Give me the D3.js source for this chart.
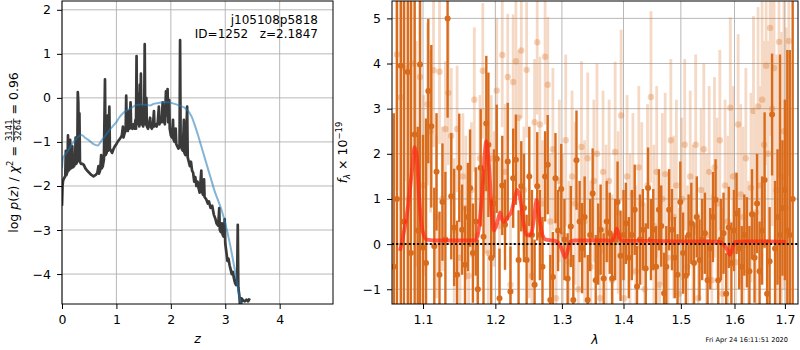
<!DOCTYPE html>
<html>
<head>
<meta charset="utf-8">
<script src="https://cdn.jsdelivr.net/npm/d3@7"></script>
<style>
body { margin: 0; background: #fff; }
svg { font-family: "DejaVu Sans", sans-serif; }
</style>
</head>
<body>
<svg width="800" height="350"></svg>
<script>
// ---- left panel: p(z) ----
const zTicks = [0, 1, 2, 3, 4];
const logpTicks = [-4, -3, -2, -1, 0, 1, 2];
// [z, log p(z)] black curve
const pzCurve = [
  [0.00,-2.45],[0.01,-2.0],[0.02,-1.88],[0.04,-1.82],[0.06,-1.78],[0.07,-1.2],[0.08,-1.75],[0.10,-1.68],
  [0.11,-0.85],[0.12,-1.65],[0.14,-1.62],[0.15,-0.95],[0.16,-1.6],[0.18,-1.58],[0.19,-1.1],[0.20,-1.58],
  [0.22,-1.55],[0.24,-1.5],[0.25,-0.9],[0.26,-1.5],[0.28,-1.45],[0.29,0.13],[0.30,-0.1],[0.31,-1.4],
  [0.32,-0.35],[0.33,-1.45],[0.35,-1.5],[0.38,-1.5],[0.40,-1.52],[0.43,-1.6],[0.46,-1.65],[0.50,-1.7],
  [0.54,-1.75],[0.58,-1.78],[0.62,-1.75],[0.65,-1.7],[0.67,-1.55],[0.68,-1.72],[0.70,-1.65],[0.72,-1.3],
  [0.73,-1.6],[0.75,-1.55],[0.77,-1.4],[0.79,0.42],[0.80,-1.3],[0.82,-1.25],[0.84,-0.4],[0.85,-1.2],
  [0.87,-0.2],[0.88,-1.15],[0.90,-1.2],[0.92,-1.25],[0.95,-1.15],[0.97,-1.1],[1.00,-1.05],[1.02,-1.0],
  [1.05,-0.95],[1.08,-0.9],[1.10,-0.85],[1.12,-0.65],[1.13,-0.9],[1.15,-0.8],[1.17,-0.75],[1.18,0.05],
  [1.19,-0.7],[1.21,-0.75],[1.23,-0.3],[1.24,-0.7],[1.26,-0.1],[1.27,-0.65],[1.29,-0.7],[1.31,-0.6],
  [1.33,-0.7],[1.35,-0.5],[1.36,-0.7],[1.37,0.95],[1.38,-0.6],[1.40,-0.55],[1.41,0.1],[1.42,-0.65],
  [1.43,0.3],[1.44,-0.5],[1.45,0.55],[1.46,-0.6],[1.48,-0.2],[1.49,-0.65],[1.51,-0.4],[1.52,1.22],
  [1.53,-0.6],[1.55,0.0],[1.56,-0.65],[1.58,-0.7],[1.60,-0.6],[1.62,-0.45],[1.63,-0.65],[1.65,-0.7],
  [1.67,-0.65],[1.69,-0.3],[1.70,-0.65],[1.72,-0.6],[1.74,-0.65],[1.76,-0.55],[1.78,-0.2],[1.79,-0.6],
  [1.81,-0.5],[1.83,-0.55],[1.85,-0.1],[1.86,-0.55],[1.88,-0.3],[1.89,-0.6],[1.91,0.15],[1.92,-0.4],
  [1.94,0.2],[1.95,-0.55],[1.97,-0.05],[1.98,-0.7],[2.00,-0.85],[2.02,-0.9],[2.04,-0.5],[2.05,-0.95],
  [2.07,-1.0],[2.09,-0.7],[2.10,-1.05],[2.12,-1.1],[2.14,-1.15],[2.16,-1.1],[2.17,1.31],[2.18,-1.0],
  [2.20,-1.15],[2.22,-1.2],[2.24,-0.5],[2.25,-1.25],[2.27,-1.3],[2.30,-0.2],[2.31,-1.35],[2.33,-1.45],
  [2.35,-1.55],[2.37,-1.45],[2.39,-1.65],[2.41,-1.7],[2.43,-1.9],[2.45,-1.8],[2.47,-2.0],[2.49,-1.9],
  [2.51,-2.05],[2.53,-2.15],[2.56,-1.65],[2.57,-2.1],[2.59,-2.2],[2.61,-1.85],[2.62,-2.25],[2.65,-2.3],
  [2.68,-2.4],[2.70,-2.35],[2.73,-2.5],[2.76,-2.45],[2.79,-2.65],[2.82,-2.75],[2.84,-2.85],[2.87,-2.9],
  [2.89,-2.5],[2.90,-3.0],[2.92,-3.05],[2.94,-2.85],[2.95,-3.1],[2.97,-3.15],[2.99,-2.75],[3.00,-3.3],
  [3.02,-3.5],[3.04,-3.7],[3.06,-3.65],[3.08,-3.8],[3.10,-3.9],[3.12,-4.0],[3.14,-3.95],[3.16,-4.1],
  [3.18,-4.2],[3.20,-4.25],[3.22,-4.0],[3.23,-2.88],[3.24,-4.3],[3.26,-4.5],[3.28,-4.9],[3.30,-4.55],
  [3.33,-4.6],[3.36,-4.62],[3.39,-4.58],[3.42,-4.62],[3.45,-4.55]
];
// [z, log p(z)] smooth blue curve
const pzSmooth = [
  [0.00,-1.6],[0.02,-1.35],[0.05,-1.3],[0.10,-1.22],[0.15,-1.12],[0.20,-1.02],[0.25,-0.95],[0.30,-0.88],
  [0.36,-0.84],[0.42,-0.9],[0.50,-0.97],[0.58,-1.05],[0.66,-1.08],[0.72,-0.98],[0.80,-0.85],[0.88,-0.72],
  [0.95,-0.62],[1.00,-0.55],[1.05,-0.45],[1.12,-0.35],[1.20,-0.28],[1.28,-0.22],[1.35,-0.17],[1.45,-0.15],
  [1.55,-0.16],[1.62,-0.17],[1.68,-0.14],[1.75,-0.12],[1.85,-0.1],[1.95,-0.1],[2.05,-0.13],[2.15,-0.17],
  [2.25,-0.22],[2.32,-0.3],[2.38,-0.42],[2.44,-0.62],[2.50,-0.85],[2.56,-1.1],[2.62,-1.35],[2.68,-1.6],
  [2.74,-1.85],[2.80,-2.1],[2.86,-2.3],[2.92,-2.5],[2.98,-2.75],[3.04,-3.05],[3.10,-3.4],[3.16,-3.8],
  [3.21,-4.15],[3.26,-4.5],[3.30,-4.75]
];

// ---- right panel: spectrum ----
const lamTicks = [1.1, 1.2, 1.3, 1.4, 1.5, 1.6, 1.7];
const fluxTicks = [-1, 0, 1, 2, 3, 4, 5];
// [lambda, flux, error] strong spectrum
const specDark = [
  [1.062,-0.5,3.4],[1.066,1.0,7],[1.071,3.95,6],[1.075,0.5,7],[1.080,3.81,6],[1.084,-0.2,6],[1.089,2.43,5],
  [1.093,0.3,2.3],[1.096,3.98,6],[1.100,-0.08,2.5],[1.104,-0.42,3.2],[1.107,3.39,1.6],[1.111,2.61,1.8],
  [1.115,-0.05,1.3],[1.118,1.6,1.3],[1.122,-0.68,1.4],[1.126,0.93,1.3],[1.130,0.1,1.5],[1.133,5.0,2.2],
  [1.138,1.06,1.4],[1.142,0.37,1.3],[1.146,-0.68,1.2],[1.149,1.69,1.2],[1.153,0.32,1.0],[1.157,-0.46,1.3],
  [1.161,0.6,1.2],[1.164,1.24,1.3],[1.168,-0.2,1.1],[1.172,0.5,1.2],[1.175,-1.0,1.1],[1.179,1.69,1.3],
  [1.183,0.16,1.5],[1.187,2.67,1.5],[1.190,2.2,1.6],[1.194,-0.31,1.3],[1.198,0.9,1.2],[1.202,1.89,1.2],
  [1.206,-1.2,1.1],[1.210,1.3,1.1],[1.214,0.43,1.0],[1.218,1.83,1.3],[1.222,-1.05,1.0],[1.226,1.46,1.1],
  [1.230,1.87,1.0],[1.234,-0.35,1.1],[1.238,1.28,1.0],[1.242,0.8,1.2],[1.246,-0.35,1.0],[1.250,1.5,1.1],
  [1.254,0.2,1.0],[1.258,-0.9,1.0],[1.262,1.28,1.2],[1.266,0.2,1.0],[1.270,-0.5,1.1],[1.274,1.5,1.0],
  [1.278,1.76,1.1],[1.282,-1.24,1.0],[1.286,-0.73,1.0],[1.290,1.46,1.0],[1.294,0.3,0.9],[1.299,1.22,1.0],
  [1.304,0.1,0.9],[1.309,-0.76,1.0],[1.314,0.39,0.9],[1.318,-1.24,1.0],[1.323,1.86,1.1],[1.328,0.5,0.9],
  [1.332,-0.09,1.0],[1.336,0.6,0.9],[1.341,-1.24,1.0],[1.345,0.2,0.8],[1.349,1.12,1.0],[1.354,-0.8,1.0],
  [1.358,0.0,0.9],[1.362,0.32,1.0],[1.367,-0.76,1.0],[1.372,0.5,0.9],[1.377,0.24,0.9],[1.381,-0.76,1.0],
  [1.386,0.1,0.9],[1.390,0.93,0.9],[1.395,-0.26,1.0],[1.400,0.2,1.0],[1.404,0.46,0.9],[1.409,-0.3,0.9],
  [1.414,0.2,1.0],[1.419,0.76,1.0],[1.423,-0.94,0.9],[1.428,0.1,1.0],[1.433,0.32,0.9],[1.438,-0.54,1.0],
  [1.442,1.24,0.9],[1.447,0.1,0.9],[1.451,0.32,0.9],[1.456,-0.5,0.9],[1.461,0.76,0.9],[1.465,0.4,0.9],
  [1.470,-1.09,0.9],[1.474,-0.5,0.9],[1.479,0.76,0.9],[1.484,0.32,0.9],[1.489,-0.3,0.9],[1.494,-0.68,0.9],
  [1.499,0.93,0.9],[1.504,-0.2,0.9],[1.509,-0.7,0.9],[1.514,0.2,0.9],[1.519,0.46,0.9],[1.524,-0.42,0.9],
  [1.529,0.6,0.9],[1.534,-0.35,0.9],[1.539,0.1,0.9],[1.544,0.24,0.9],[1.549,-0.8,0.9],[1.554,-0.1,0.9],
  [1.559,0.6,1.0],[1.564,0.98,0.9],[1.569,-0.8,0.9],[1.574,0.1,0.9],[1.579,0.24,0.9],[1.584,-1.1,0.9],
  [1.589,0.37,0.9],[1.594,-0.42,0.9],[1.599,0.3,0.9],[1.604,0.68,0.9],[1.609,-0.1,0.9],[1.614,-0.5,0.9],
  [1.619,0.2,0.9],[1.624,0.04,1.0],[1.629,-0.6,1.0],[1.634,0.66,1.0],[1.639,-0.3,1.0],[1.644,0.9,1.1],
  [1.649,-0.6,1.1],[1.654,0.3,1.2],[1.659,1.42,1.5],[1.664,-1.1,1.2],[1.669,-0.38,1.2],[1.674,2.87,1.35],
  [1.680,-0.1,1.5],[1.685,0.6,1.5],[1.690,0.2,4.0],[1.695,0.8,1.5],[1.700,1.2,2.0],[1.705,0.3,4.0],
  [1.710,0.2,4.1],[1.716,1.0,8]
];
// [lambda, flux, error] faint spectrum
const specFaint = [
  [1.066,4.2,3.0],[1.071,3.25,2.5],[1.076,3.9,2.5],[1.081,1.0,3.0],[1.086,4.0,2.0],[1.091,2.0,2.5],
  [1.096,3.7,2.0],[1.101,1.3,2.0],[1.106,3.1,1.8],[1.110,2.5,1.8],[1.114,3.85,1.7],[1.118,0.6,1.8],
  [1.122,3.82,1.6],[1.126,1.0,1.6],[1.130,2.55,1.5],[1.134,3.35,1.6],[1.138,2.4,1.5],[1.142,0.3,1.6],
  [1.146,2.55,1.4],[1.150,-0.3,1.5],[1.154,1.5,1.4],[1.158,0.8,1.6],[1.162,-0.7,1.5],[1.166,1.2,1.5],
  [1.170,3.2,1.6],[1.174,0.2,1.5],[1.178,1.9,1.4],[1.182,3.84,1.5],[1.186,1.4,1.6],[1.190,-0.2,1.5],
  [1.194,1.9,1.4],[1.198,1.0,1.5],[1.202,3.4,1.6],[1.206,0.4,1.5],[1.210,4.19,1.6],[1.214,1.6,1.5],
  [1.218,3.7,1.4],[1.222,-0.9,1.5],[1.226,3.59,1.5],[1.230,4.05,1.6],[1.234,2.8,1.5],[1.238,4.29,1.5],
  [1.242,1.2,1.4],[1.246,3.86,1.5],[1.250,0.2,1.4],[1.254,-0.7,1.5],[1.258,2.7,1.4],[1.262,4.47,1.6],
  [1.266,2.65,1.5],[1.270,0.9,1.4],[1.274,4.15,1.5],[1.278,3.53,1.5],[1.282,0.5,1.5],[1.286,2.1,1.8],
  [1.291,-1.2,1.9],[1.296,1.4,1.8],[1.301,0.2,1.8],[1.306,2.3,1.9],[1.311,-0.4,1.8],[1.316,1.5,1.9],
  [1.321,0.9,1.8],[1.326,-1.0,1.9],[1.331,2.15,1.9],[1.336,0.5,1.8],[1.341,1.9,1.9],[1.346,-0.5,1.9],
  [1.351,1.4,1.8],[1.356,2.0,2.0],[1.361,-1.2,1.9],[1.366,1.6,1.8],[1.371,0.3,1.9],[1.376,1.4,1.8],
  [1.381,-0.8,1.9],[1.386,2.04,2.0],[1.391,0.7,1.8],[1.396,2.85,1.9],[1.401,-1.2,1.9],[1.406,1.5,1.8],
  [1.411,0.1,1.9],[1.416,1.1,1.8],[1.421,-0.6,1.9],[1.426,1.7,1.8],[1.431,0.9,1.8],[1.436,-1.0,1.9],
  [1.441,1.3,1.8],[1.447,3.26,1.9],[1.452,0.4,1.8],[1.457,1.6,1.9],[1.462,-0.9,1.8],[1.467,1.0,1.9],
  [1.472,1.55,1.8],[1.477,-0.3,1.9],[1.482,2.3,1.8],[1.487,0.6,1.8],[1.492,1.3,1.9],[1.497,-1.1,1.9],
  [1.502,1.0,1.8],[1.507,2.2,1.9],[1.512,-0.5,1.8],[1.517,1.5,1.9],[1.522,0.4,1.8],[1.527,2.2,2.0],
  [1.532,-1.2,1.9],[1.537,1.2,1.8],[1.542,2.1,1.9],[1.547,0.2,1.8],[1.552,1.6,1.9],[1.557,-0.8,1.9],
  [1.562,1.7,2.0],[1.567,0.9,1.9],[1.572,2.3,2.0],[1.577,-1.1,1.9],[1.582,1.3,1.9],[1.587,0.5,1.9],
  [1.592,3.02,2.0],[1.597,1.5,2.0],[1.602,-0.4,2.0],[1.607,2.65,2.0],[1.612,1.1,2.0],[1.617,0.6,2.0],
  [1.622,1.9,2.0],[1.627,-0.6,2.0],[1.632,1.25,2.1],[1.637,2.95,2.1],[1.642,0.7,2.2],[1.646,3.05,2.2],
  [1.650,1.3,2.2],[1.654,3.2,2.2],[1.658,2.2,2.3],[1.662,3.95,2.2],[1.666,2.0,2.5],[1.670,4.79,2.4],
  [1.674,3.0,2.6],[1.678,3.9,2.8],[1.683,1.2,3.0],[1.688,4.48,3.0],[1.693,1.5,3.2],[1.698,2.5,3.5],
  [1.703,0.8,4.0],[1.708,4.5,3.0]
];
// [lambda, model flux]
const specModel = [
  [1.070,-0.15],[1.080,0.8],[1.086,1.7],[1.089,2.15],[1.092,1.9],[1.095,1.0],[1.100,0.25],[1.105,0.1],
  [1.120,0.08],[1.140,0.08],[1.160,0.08],[1.171,0.08],[1.176,0.3],[1.181,1.1],[1.187,2.28],[1.191,1.7],
  [1.195,0.7],[1.198,0.3],[1.203,0.5],[1.207,0.7],[1.211,0.5],[1.214,0.5],[1.218,0.6],[1.223,0.7],
  [1.228,1.0],[1.232,1.2],[1.236,1.05],[1.241,0.5],[1.246,0.2],[1.252,0.2],[1.257,0.55],[1.261,0.98],
  [1.265,0.6],[1.270,0.2],[1.275,0.1],[1.285,0.08],[1.293,0.05],[1.298,-0.05],[1.302,-0.2],[1.305,-0.3],
  [1.309,-0.15],[1.313,0.05],[1.320,0.08],[1.350,0.08],[1.372,0.08],[1.380,0.06],[1.385,0.18],[1.389,0.34],
  [1.393,0.15],[1.398,0.07],[1.420,0.07],[1.450,0.07],[1.500,0.06],[1.550,0.06],[1.572,0.05],[1.580,-0.02],
  [1.586,-0.12],[1.591,-0.24],[1.596,-0.1],[1.601,0.05],[1.620,0.06],[1.660,0.06],[1.702,0.05]
];

const svg = d3.select('svg');
const orange = 'rgb(217,108,28)';

const L = {x0: 62, x1: 333, y0: 1, y1: 304};
const R = {x0: 392, x1: 798, y0: 1, y1: 304};

const xL = d3.scaleLinear().domain([0, 4.98]).range([L.x0, L.x1]);
const yL = d3.scaleLinear().domain([-4.68, 2.2]).range([L.y1, L.y0]);
const xR = d3.scaleLog().domain([1.0597, 1.727]).range([R.x0, R.x1]);
const yR = d3.scaleLinear().domain([-1.327, 5.385]).range([R.y1, R.y0]);

function addClip(id, b) {
  svg.append('clipPath').attr('id', id).append('rect')
    .attr('x', b.x0).attr('y', b.y0).attr('width', b.x1 - b.x0).attr('height', b.y1 - b.y0);
}
addClip('clipL', L);
addClip('clipR', R);

function drawGrid(b, x, y, xt, yt) {
  const g = svg.append('g').attr('stroke', '#b0b0b0').attr('stroke-width', 0.9);
  g.selectAll('.gx').data(xt).join('line')
    .attr('x1', d => x(d)).attr('x2', d => x(d)).attr('y1', b.y0).attr('y2', b.y1);
  g.selectAll('.gy').data(yt).join('line').attr('class', 'gy')
    .attr('y1', d => y(d)).attr('y2', d => y(d)).attr('x1', b.x0).attr('x2', b.x1);
}

function drawAxes(b, x, y, xt, yt, xfmt, yfmt) {
  svg.append('g').attr('transform', `translate(0,${b.y1})`)
    .call(d3.axisBottom(x).tickValues(xt).tickFormat(xfmt).tickSize(5).tickPadding(6).tickSizeOuter(0))
    .call(g => g.select('.domain').remove())
    .call(g => g.selectAll('text').attr('font-size', 12.5).attr('font-family', 'DejaVu Sans').attr('fill', '#000'));
  svg.append('g').attr('transform', `translate(${b.x0},0)`)
    .call(d3.axisLeft(y).tickValues(yt).tickFormat(yfmt).tickSize(5).tickPadding(6).tickSizeOuter(0))
    .call(g => g.select('.domain').remove())
    .call(g => g.selectAll('text').attr('font-size', 12.5).attr('font-family', 'DejaVu Sans').attr('fill', '#000'));
  svg.append('rect').attr('x', b.x0).attr('y', b.y0)
    .attr('width', b.x1 - b.x0).attr('height', b.y1 - b.y0)
    .attr('fill', 'none').attr('stroke', '#000').attr('stroke-width', 1);
}

// ---------- left panel ----------
drawGrid(L, xL, yL, zTicks, logpTicks);
const gL = svg.append('g').attr('clip-path', 'url(#clipL)');
const lineL = d3.line().x(d => xL(d[0])).y(d => yL(d[1]));
gL.append('path').attr('d', lineL(pzCurve))
  .attr('fill', 'none').attr('stroke', '#3a3a3a').attr('stroke-width', 2.7).attr('stroke-linejoin', 'round');
gL.append('path').attr('d', lineL.curve(d3.curveMonotoneX)(pzSmooth))
  .attr('fill', 'none').attr('stroke', 'rgba(31,119,180,0.55)').attr('stroke-width', 2);
drawAxes(L, xL, yL, zTicks, logpTicks, d3.format('d'), d3.format('d'));

svg.append('text').attr('x', 318).attr('y', 24).attr('text-anchor', 'end')
  .attr('font-size', 12).text('j105108p5818');
svg.append('text').attr('x', 318).attr('y', 38).attr('text-anchor', 'end')
  .attr('font-size', 12).style('white-space', 'pre').text('ID=1252   z=2.1847');

svg.append('text').attr('x', (L.x0 + L.x1) / 2).attr('y', 343).attr('text-anchor', 'middle')
  .attr('font-size', 12.5).attr('font-style', 'italic').text('z');

// left y label with a stacked fraction
{
  const g = svg.append('g');
  const t1 = g.append('text').attr('font-size', 12.5);
  t1.append('tspan').text('log ');
  t1.append('tspan').attr('font-style', 'italic').text('p');
  t1.append('tspan').text('(');
  t1.append('tspan').attr('font-style', 'italic').text('z');
  t1.append('tspan').text(') / ');
  t1.append('tspan').attr('font-style', 'italic').text('χ');
  t1.append('tspan').attr('font-size', 8.5).attr('dy', -5).text('2');
  t1.append('tspan').attr('dy', 5).style('white-space', 'pre').text(' = ');
  const w1 = t1.node().getComputedTextLength();
  const num = g.append('text').attr('font-size', 8.5).attr('y', -6).text('3141');
  const fw = num.node().getComputedTextLength() + 2;
  num.attr('x', w1 + 1);
  g.append('text').attr('font-size', 8.5).attr('x', w1 + 1).attr('y', 2.5).text('3264');
  g.append('line').attr('x1', w1).attr('x2', w1 + fw).attr('y1', -4.3).attr('y2', -4.3)
    .attr('stroke', '#000').attr('stroke-width', 0.8);
  const t3 = g.append('text').attr('font-size', 12.5).attr('x', w1 + fw).style('white-space', 'pre').text(' = 0.96');
  const wt = w1 + fw + t3.node().getComputedTextLength();
  g.attr('transform', `translate(18,${(L.y0 + L.y1) / 2 + wt / 2}) rotate(-90)`);
}

// ---------- right panel ----------
drawGrid(R, xR, yR, lamTicks, fluxTicks);
const gR = svg.append('g').attr('clip-path', 'url(#clipR)');

const faint = gR.append('g').attr('opacity', 0.25);
faint.selectAll('line').data(specFaint).join('line')
  .attr('x1', d => xR(d[0])).attr('x2', d => xR(d[0]))
  .attr('y1', d => yR(d[1] - d[2])).attr('y2', d => yR(d[1] + d[2]))
  .attr('stroke', orange).attr('stroke-width', 2.8);
gR.append('g').selectAll('circle').data(specFaint).join('circle')
  .attr('cx', d => xR(d[0])).attr('cy', d => yR(d[1])).attr('r', 3.2)
  .attr('fill', orange).attr('opacity', 0.3);

gR.append('g').selectAll('line').data(specDark).join('line')
  .attr('x1', d => xR(d[0])).attr('x2', d => xR(d[0]))
  .attr('y1', d => yR(d[1] - d[2])).attr('y2', d => yR(d[1] + d[2]))
  .attr('stroke', orange).attr('stroke-width', 2.4);
gR.append('g').selectAll('circle').data(specDark).join('circle')
  .attr('cx', d => xR(d[0])).attr('cy', d => yR(d[1])).attr('r', 3)
  .attr('fill', orange);

gR.append('path')
  .attr('d', d3.line().x(d => xR(d[0])).y(d => yR(d[1])).curve(d3.curveMonotoneX)(specModel))
  .attr('fill', 'none').attr('stroke', 'rgba(255,40,20,0.72)').attr('stroke-width', 3.8)
  .attr('stroke-linejoin', 'round');

gR.append('line').attr('x1', R.x0).attr('x2', R.x1).attr('y1', yR(0)).attr('y2', yR(0))
  .attr('stroke', '#000').attr('stroke-width', 2).attr('stroke-dasharray', '2,2.2');

drawAxes(R, xR, yR, lamTicks, fluxTicks, d3.format('.1f'), d3.format('d'));

svg.append('text').attr('x', (R.x0 + R.x1) / 2).attr('y', 344).attr('text-anchor', 'middle')
  .attr('font-size', 12.5).attr('font-style', 'italic').text('λ');

{
  const g = svg.append('g');
  const t = g.append('text').attr('font-size', 12.5);
  t.append('tspan').attr('font-style', 'italic').text('f');
  t.append('tspan').attr('font-style', 'italic').attr('font-size', 8.5).attr('dy', 3).text('λ');
  t.append('tspan').attr('dy', -3).style('white-space', 'pre').text(' × 10');
  t.append('tspan').attr('font-size', 8.5).attr('dy', -5).text('−19');
  const w = t.node().getComputedTextLength();
  g.attr('transform', `translate(347,${(R.y0 + R.y1) / 2 + w / 2}) rotate(-90)`);
}

svg.append('text').attr('x', 788).attr('y', 342).attr('text-anchor', 'end')
  .attr('font-size', 6.6).text('Fri Apr 24 16:11:51 2020');
</script>
</body>
</html>
